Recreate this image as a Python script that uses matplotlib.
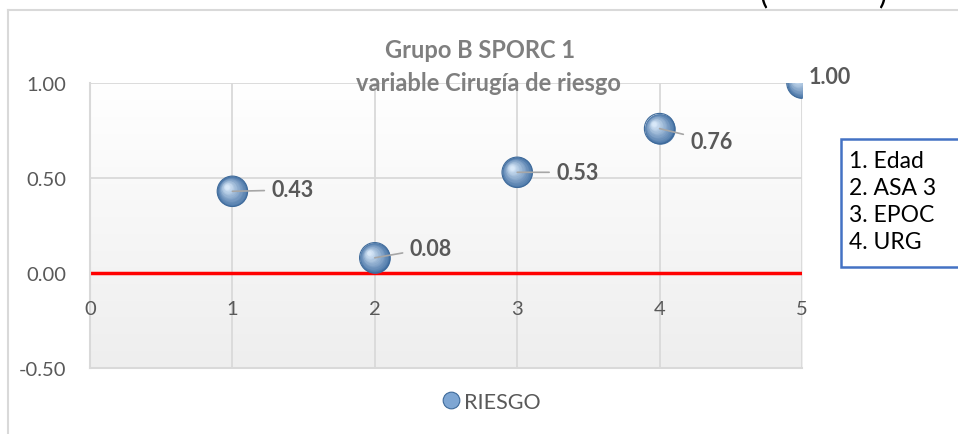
import matplotlib.pyplot as plt
import numpy as np
from matplotlib.lines import Line2D
from matplotlib.patches import Rectangle
from matplotlib.colors import to_rgb

plt.rcParams['font.family'] = ['Lato', 'DejaVu Sans']

# data
x = [1, 2, 3, 4, 5]
riesgo = [0.43, 0.08, 0.53, 0.76, 1.00]
labels = ['0.43', '0.08', '0.53', '0.76', '1.00']
label_offsets = [(28, 1), (25, 7), (28, 0), (22, -9), (5, 5)]  # in points
legend_items = ['1. Edad', '2. ASA 3', '3. EPOC', '4. URG']

gray_txt = '#595959'

fig = plt.figure(figsize=(9.58, 4.35), dpi=100)
ax = fig.add_axes([90/958, 1 - 369/435, 712/958, 285/435])

# chart area border (top and left edges visible)
fig.add_artist(Line2D([8/958, 8/958], [0, 1 - 11/435], transform=fig.transFigure,
                      color='#D9D9D9', lw=1.5))
fig.add_artist(Line2D([8/958, 1], [1 - 11/435, 1 - 11/435], transform=fig.transFigure,
                      color='#D9D9D9', lw=1.5))

# cut-off text at the very top
fig.text(760/958, 1 + 6/435, '(', fontsize=22, color='black', va='center', ha='left')
fig.text(878/958, 1 + 6/435, ')', fontsize=22, color='black', va='center', ha='left')

ax.set_xlim(0, 5)
ax.set_ylim(-0.5, 1.0)

# gradient background
grad = np.linspace(0, 1, 256).reshape(-1, 1)
c_top = np.array(to_rgb('#FFFFFF'))
c_bot = np.array(to_rgb('#EEEEEE'))
img = c_top + (c_bot - c_top) * grad[:, :, None]
ax.imshow(img, extent=[0, 5, -0.5, 1.0], aspect='auto', origin='upper', zorder=0)

# grid
for xv in x:
    ax.axvline(xv, color='#D9D9D9', lw=1.3, zorder=1)
for yv in [0.5, 1.0]:
    ax.axhline(yv, color='#D9D9D9', lw=1.3, zorder=1)
ax.axhline(0, color='#FF0000', lw=2.5, zorder=2)

for s in ['left', 'bottom']:
    ax.spines[s].set_color('#D9D9D9')
    ax.spines[s].set_linewidth(1.5)
for s in ['top', 'right']:
    ax.spines[s].set_visible(False)

ax.set_yticks([-0.5, 0, 0.5, 1.0])
ax.set_yticklabels(['-0.50', '0.00', '0.50', '1.00'])
ax.tick_params(axis='y', length=0, pad=17, labelsize=14.5, labelcolor=gray_txt)
ax.set_xticks([])
for xv in range(0, 6):
    ax.text(xv, -0.185, str(xv), ha='center', va='center',
            fontsize=14.5, color=gray_txt, zorder=3)

# sphere-like markers: layered circles
n_layers = 14
c_dark = np.array(to_rgb('#4A76A8'))
c_light = np.array(to_rgb('#D8E8F8'))
for i in range(n_layers):
    t = i / (n_layers - 1)
    size = 480 * (1 - 0.85 * t) ** 2
    col = c_dark + (c_light - c_dark) * t
    ax.scatter(np.array(x) - 0.04 * t, np.array(riesgo) + 0.025 * t, s=size,
               color=col, lw=0, zorder=5 + i * 0.01)
ax.scatter(x, riesgo, s=480, facecolor='none', edgecolor='#3E6A9A', lw=0.8,
           zorder=6)

# data labels with leader lines
for xi, yi, lab, off in zip(x, riesgo, labels, label_offsets):
    ax.annotate(lab, xy=(xi, yi), xytext=off, textcoords='offset points',
                ha='left', va='center', fontsize=15.5, fontweight='bold',
                color=gray_txt, zorder=7, annotation_clip=False,
                arrowprops=dict(arrowstyle='-', color='#A6A6A6', lw=1.2,
                                shrinkA=3, shrinkB=0) if off[0] > 10 else None)

# title
fig.text(480/958, 1 - 50/435, 'Grupo B SPORC 1', ha='center', va='center',
         fontsize=17, fontweight='bold', color='#7F7F7F')
fig.text(488/958, 1 - 84/435, 'variable Cirugía de riesgo', ha='center', va='center',
         fontsize=17, fontweight='bold', color='#7F7F7F')

# legend
h = Line2D([], [], marker='o', ls='', markersize=12, markerfacecolor='#7EA6D3',
           markeredgecolor='#3E6A9A', markeredgewidth=0.8)
fig.legend([h], ['RIESGO'], loc='center', bbox_to_anchor=(490/958, 1 - 403/435),
           frameon=False, fontsize=15.5, labelcolor=gray_txt, handletextpad=0.1,
           handlelength=1.0)

# side box
fig.add_artist(Rectangle((841/958, 1 - 268/435), 130/958, 128/435,
                         transform=fig.transFigure, facecolor='white',
                         edgecolor='#4472C4', lw=1.8))
for i, t in enumerate(legend_items):
    fig.text(849/958, 1 - (162 + i * 27) / 435, t, ha='left', va='center',
             fontsize=16.5, color='black')

fig.savefig('out.png', dpi=100)
